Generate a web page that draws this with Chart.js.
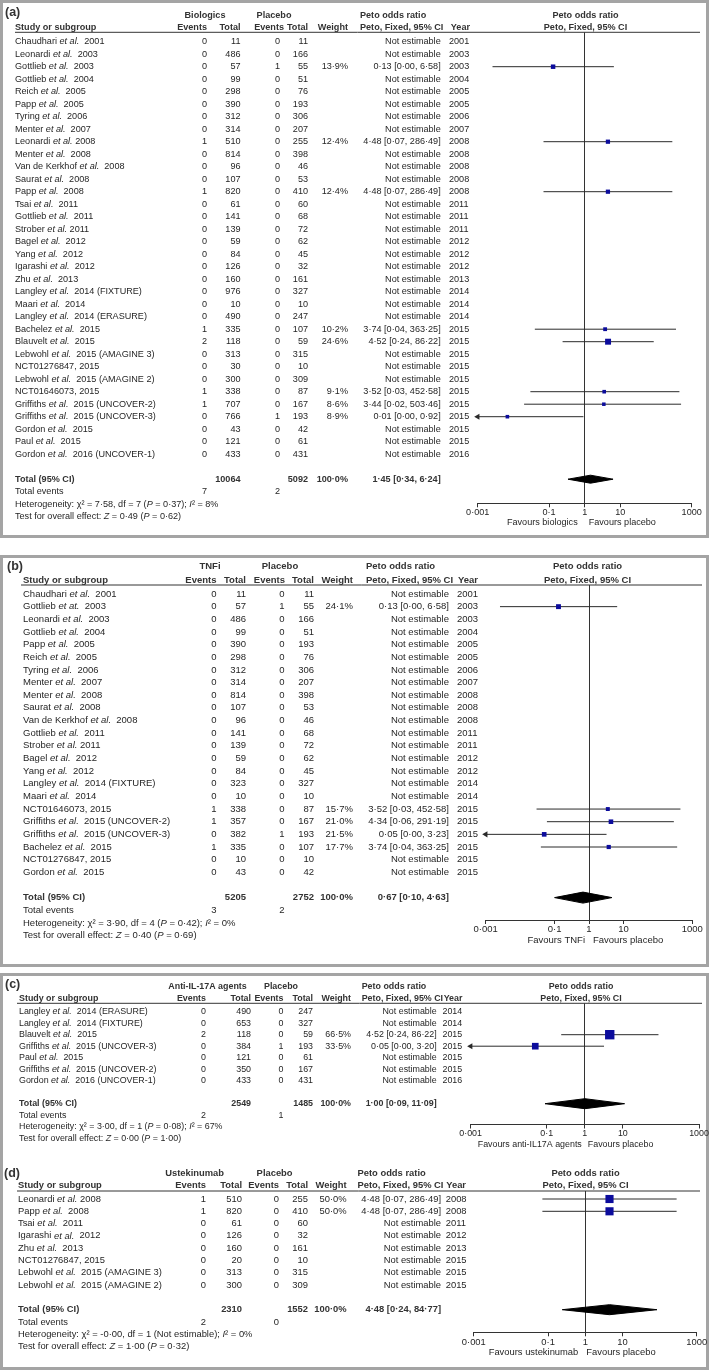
<!DOCTYPE html>
<html>
<head>
<meta charset="utf-8">
<script src="https://cdn.jsdelivr.net/npm/chart.js@4.4.0/dist/chart.umd.min.js"></script>
<style>
  body { margin: 0; background: #fff; }
  #page { position: relative; width: 709px; height: 1370px; overflow: hidden; }
  .box { position: absolute; left: 0; width: 709px; box-sizing: border-box; border: 3px solid #a4a4a4; }
  #page canvas { position: absolute; left: 0; }
</style>
</head>
<body>
<div id="page"></div>
<script>
// ---- panel (a): biologics vs placebo
const studiesA = ['Chaudhari et al.  2001', 'Leonardi et al.  2003', 'Gottlieb et al.  2003', 'Gottlieb et al.  2004',
  'Reich et al.  2005', 'Papp et al.  2005', 'Tyring et al.  2006', 'Menter et al.  2007', 'Leonardi et al. 2008',
  'Menter et al.  2008', 'Van de Kerkhof et al.  2008', 'Saurat et al.  2008', 'Papp et al.  2008', 'Tsai et al.  2011',
  'Gottlieb et al.  2011', 'Strober et al. 2011', 'Bagel et al.  2012', 'Yang et al.  2012', 'Igarashi et al.  2012',
  'Zhu et al.  2013', 'Langley et al.  2014 (FIXTURE)', 'Maari et al.  2014', 'Langley et al.  2014 (ERASURE)',
  'Bachelez et al.  2015', 'Blauvelt et al.  2015', 'Lebwohl et al.  2015 (AMAGINE 3)', 'NCT01276847, 2015',
  'Lebwohl et al.  2015 (AMAGINE 2)', 'NCT01646073, 2015', 'Griffiths et al.  2015 (UNCOVER-2)',
  'Griffiths et al.  2015 (UNCOVER-3)', 'Gordon et al.  2015', 'Paul et al.  2015', 'Gordon et al.  2016 (UNCOVER-1)'];
const eventsA1 = [0,0,0,0,0,0,0,0,1,0,0,0,1,0,0,0,0,0,0,0,0,0,0,1,2,0,0,0,1,1,0,0,0,0];
const totalA1 = [11,486,57,99,298,390,312,314,510,814,96,107,820,61,141,139,59,84,126,160,976,10,490,335,118,313,30,300,338,707,766,43,121,433];
const eventsA2 = [0,0,1,0,0,0,0,0,0,0,0,0,0,0,0,0,0,0,0,0,0,0,0,0,0,0,0,0,0,0,1,0,0,0];
const totalA2 = [11,166,55,51,76,193,306,207,255,398,46,53,410,60,68,72,62,45,32,161,327,10,247,107,59,315,10,309,87,167,193,42,61,431];
const weightA = [null,null,13.9,null,null,null,null,null,12.4,null,null,null,12.4,null,null,null,null,null,null,null,null,null,null,10.2,24.6,null,null,null,9.1,8.6,8.9,null,null,null];
const orA = [null,null,0.13,null,null,null,null,null,4.48,null,null,null,4.48,null,null,null,null,null,null,null,null,null,null,3.74,4.52,null,null,null,3.52,3.44,0.0068,null,null,null];
const loA = [null,null,0.0026,null,null,null,null,null,0.07,null,null,null,0.07,null,null,null,null,null,null,null,null,null,null,0.04,0.24,null,null,null,0.03,0.02,0.00005,null,null,null];
const hiA = [null,null,6.58,null,null,null,null,null,286.49,null,null,null,286.49,null,null,null,null,null,null,null,null,null,null,363.25,86.22,null,null,null,452.58,503.46,0.92,null,null,null];
const yearA = [2001,2003,2003,2004,2005,2005,2006,2007,2008,2008,2008,2008,2008,2011,2011,2011,2012,2012,2012,2013,2014,2014,2014,2015,2015,2015,2015,2015,2015,2015,2015,2015,2015,2016];
const totalsA = [10064, 5092];
const totalEventsA = [7, 2];
const pooledA = [1.45, 0.34, 6.24];
const hetA = [7.58, 7, 0.37, 8];      // chi2, df, P, I2
const testA = [0.49, 0.62];           // Z, P

// ---- panel (b): TNFi vs placebo
const studiesB = ['Chaudhari et al.  2001', 'Gottlieb et at.  2003', 'Leonardi et al.  2003', 'Gottlieb et al.  2004',
  'Papp et al.  2005', 'Reich et al.  2005', 'Tyring et al.  2006', 'Menter et al.  2007', 'Menter et al.  2008',
  'Saurat et al.  2008', 'Van de Kerkhof et al.  2008', 'Gottlieb et al.  2011', 'Strober et al. 2011', 'Bagel et al.  2012',
  'Yang et al.  2012', 'Langley et al.  2014 (FIXTURE)', 'Maari et al.  2014', 'NCT01646073, 2015',
  'Griffiths et al.  2015 (UNCOVER-2)', 'Griffiths et al.  2015 (UNCOVER-3)', 'Bachelez et al.  2015',
  'NCT01276847, 2015', 'Gordon et al.  2015'];
const eventsB1 = [0,0,0,0,0,0,0,0,0,0,0,0,0,0,0,0,0,1,1,0,1,0,0];
const totalB1 = [11,57,486,99,390,298,312,314,814,107,96,141,139,59,84,323,10,338,357,382,335,10,43];
const eventsB2 = [0,1,0,0,0,0,0,0,0,0,0,0,0,0,0,0,0,0,0,1,0,0,0];
const totalB2 = [11,55,166,51,193,76,306,207,398,53,46,68,72,62,45,327,10,87,167,193,107,10,42];
const weightB = [null,24.1,null,null,null,null,null,null,null,null,null,null,null,null,null,null,null,15.7,21.0,21.5,17.7,null,null];
const orB = [null,0.13,null,null,null,null,null,null,null,null,null,null,null,null,null,null,null,3.52,4.34,0.05,3.74,null,null];
const loB = [null,0.0026,null,null,null,null,null,null,null,null,null,null,null,null,null,null,null,0.03,0.06,0.0008,0.04,null,null];
const hiB = [null,6.58,null,null,null,null,null,null,null,null,null,null,null,null,null,null,null,452.58,291.19,3.23,363.25,null,null];
const yearB = [2001,2003,2003,2004,2005,2005,2006,2007,2008,2008,2008,2011,2011,2012,2012,2014,2014,2015,2015,2015,2015,2015,2015];
const totalsB = [5205, 2752];
const totalEventsB = [3, 2];
const pooledB = [0.67, 0.10, 4.63];
const hetB = [3.90, 4, 0.42, 0];
const testB = [0.40, 0.69];

// ---- panel (c): anti-IL-17A agents vs placebo
const studiesC = ['Langley et al.  2014 (ERASURE)', 'Langley et al.  2014 (FIXTURE)', 'Blauvelt et al.  2015',
  'Griffiths et al.  2015 (UNCOVER-3)', 'Paul et al.  2015', 'Griffiths et al.  2015 (UNCOVER-2)',
  'Gordon et al.  2016 (UNCOVER-1)'];
const eventsC1 = [0,0,2,0,0,0,0];
const totalC1 = [490,653,118,384,121,350,433];
const eventsC2 = [0,0,0,1,0,0,0];
const totalC2 = [247,327,59,193,61,167,431];
const weightC = [null,null,66.5,33.5,null,null,null];
const orC = [null,null,4.52,0.05,null,null,null];
const loC = [null,null,0.24,0.0008,null,null,null];
const hiC = [null,null,86.22,3.20,null,null,null];
const yearC = [2014,2014,2015,2015,2015,2015,2016];
const totalsC = [2549, 1485];
const totalEventsC = [2, 1];
const pooledC = [1.00, 0.09, 11.09];
const hetC = [3.00, 1, 0.08, 67];
const testC = [0.00, 1.00];

// ---- panel (d): ustekinumab vs placebo
const studiesD = ['Leonardi et al. 2008', 'Papp et al.  2008', 'Tsai et al.  2011', 'Igarashi et al.  2012',
  'Zhu et al.  2013', 'NCT01276847, 2015', 'Lebwohl et al.  2015 (AMAGINE 3)', 'Lebwohl et al.  2015 (AMAGINE 2)'];
const eventsD1 = [1,1,0,0,0,0,0,0];
const totalD1 = [510,820,61,126,160,20,313,300];
const eventsD2 = [0,0,0,0,0,0,0,0];
const totalD2 = [255,410,60,32,161,10,315,309];
const weightD = [50.0,50.0,null,null,null,null,null,null];
const orD = [4.48,4.48,null,null,null,null,null,null];
const loD = [0.07,0.07,null,null,null,null,null,null];
const hiD = [286.49,286.49,null,null,null,null,null,null];
const yearD = [2008,2008,2011,2012,2013,2015,2015,2015];
const totalsD = [2310, 1552];
const totalEventsD = [2, 0];
const pooledD = [4.48, 0.24, 84.77];
const hetD = [-0.001, 1, null, 0];
const testD = [1.00, 0.32];

// axis
const xTicks = [0.001, 0.1, 1, 10, 1000];
const xTickLabels = ['0·001', '0·1', '1', '10', '1000'];

const FAMILY = '"Liberation Sans", Arial, Helvetica, sans-serif';
const TEXT = '#262626';
const HEAD = '#333';
const BLUE = '#0c0c9c';
const AXIS_H = 18;   // fixed x-axis box height (labels are clipped to it)

const f2 = v => v.toFixed(2).replace('.', '·');
const pct = v => v.toFixed(1).replace('.', '·') + '%';
const ciText = (o, l, h) => f2(o) + ' [' + f2(l) + ', ' + f2(h) + ']';

// text with _italic_ parts
function rich(ctx, str, x, y, align, size, bold) {
  const parts = str.split('_');
  const font = it => (it ? 'italic ' : '') + (bold ? 'bold ' : '') + size + 'px ' + FAMILY;
  let w = 0;
  parts.forEach((p, k) => { ctx.font = font(k % 2 === 1); w += ctx.measureText(p).width; });
  let cx = align === 'right' ? x - w : align === 'center' ? x - w / 2 : x;
  ctx.textAlign = 'left';
  parts.forEach((p, k) => { ctx.font = font(k % 2 === 1); ctx.fillText(p, cx, y); cx += ctx.measureText(p).width; });
}

function textPlugin(D, L) {
  return {
    id: 'forestText',
    afterDraw(chart) {
      const ctx = chart.ctx;
      const ys = chart.scales.y, xs = chart.scales.x;
      const off = L.top;
      const rowY = i => ys.getPixelForValue(i);
      const put = (s, x, y, align, bold) => rich(ctx, s, x, y, align, L.fs, bold);
      ctx.save();
      ctx.textBaseline = 'middle';

      ctx.fillStyle = HEAD;
      rich(ctx, L.label, L.labX, L.labY - off, 'left', 12.5, true);
      const h1 = L.h1 - off, h2 = L.h2 - off;
      put(D.arm, L.arm1, h1, 'center', true);
      put('Placebo', L.arm2, h1, 'center', true);
      put('Peto odds ratio', L.orL, h1, 'left', true);
      put('Peto odds ratio', L.rh, h1, 'center', true);
      put('Study or subgroup', L.nameX, h2, 'left', true);
      put('Events', L.he1, h2, 'right', true);
      put('Total', L.t1, h2, 'right', true);
      put('Events', L.he2, h2, 'right', true);
      put('Total', L.t2, h2, 'right', true);
      put('Weight', L.w, h2, 'right', true);
      put('Peto, Fixed, 95% CI', L.orL, h2, 'left', true);
      put('Year', L.yearR, h2, 'right', true);
      put('Peto, Fixed, 95% CI', L.rh, h2, 'center', true);

      ctx.strokeStyle = '#333';
      ctx.lineWidth = 1;
      ctx.beginPath();
      ctx.moveTo(L.lineX0, L.headY - off);
      ctx.lineTo(L.lineX1, L.headY - off);
      ctx.stroke();

      ctx.fillStyle = TEXT;
      D.names.forEach((nm, i) => {
        const y = rowY(i);
        put(nm.replace(/(et a[lt]\.)/, '_$1_'), L.nameX, y, 'left');
        put(String(D.e1[i]), L.e1, y, 'right');
        put(String(D.t1[i]), L.t1, y, 'right');
        put(String(D.e2[i]), L.e2, y, 'right');
        put(String(D.t2[i]), L.t2, y, 'right');
        if (D.w[i] != null) put(pct(D.w[i]), L.w, y, 'right');
        put(D.or[i] == null ? 'Not estimable' : ciText(D.or[i], D.lo[i], D.hi[i]), L.orR, y, 'right');
        put(String(D.year[i]), L.yearL, y, 'left');
      });

      const n = D.names.length;
      let y = rowY(n + 1);
      ctx.fillStyle = HEAD;
      put('Total (95% CI)', L.nameX, y, 'left', true);
      put(String(D.totals[0]), L.t1, y, 'right', true);
      put(String(D.totals[1]), L.t2, y, 'right', true);
      put(pct(100), L.w, y, 'right', true);
      put(ciText(D.pooled[0], D.pooled[1], D.pooled[2]), L.orR, y, 'right', true);

      ctx.fillStyle = TEXT;
      y = rowY(n + 2);
      put('Total events', L.nameX, y, 'left');
      put(String(D.tev[0]), L.e1, y, 'right');
      put(String(D.tev[1]), L.e2, y, 'right');
      const het = D.het;
      put('Heterogeneity: χ² = ' + f2(het[0]) + ', df = ' + het[1] + ' (' +
        (het[2] == null ? 'Not estimable' : '_P_ = ' + f2(het[2])) + '); _I_² = ' + het[3] + '%',
        L.nameX, rowY(n + 3), 'left');
      put('Test for overall effect: _Z_ = ' + f2(D.test[0]) + ' (_P_ = ' + f2(D.test[1]) + ')',
        L.nameX, rowY(n + 4), 'left');

      const one = xs.getPixelForValue(1);
      put(D.fav, one - L.favL, L.favY - off, 'right');
      put('Favours placebo', one + L.favR, L.favY - off, 'left');
      ctx.restore();
    }
  };
}

function buildPanel(D, L) {
  const page = document.getElementById('page');
  if (L.box) {
    const b = document.createElement('div');
    b.className = 'box';
    b.style.top = L.box[0] + 'px';
    b.style.height = (L.box[1] - L.box[0]) + 'px';
    page.appendChild(b);
  }
  const canvas = document.createElement('canvas');
  canvas.width = 709;
  canvas.height = L.bottom - L.top;
  canvas.style.top = L.top + 'px';
  page.appendChild(canvas);

  const n = D.names.length;
  const yMin = (L.headY - L.y0) / L.dy;
  const yMax = (L.axisY - L.y0) / L.dy;
  const xMin = xTicks[0], xMax = xTicks[xTicks.length - 1];

  const squares = [], sizes = [], datasets = [];
  D.or.forEach((o, i) => {
    if (o == null) return;
    squares.push({ x: o, y: i });
    sizes.push(L.boxK * Math.sqrt(D.w[i]) / Math.SQRT2);
  });
  datasets.push({
    data: squares, showLine: false, pointStyle: 'rect', pointRadius: sizes,
    pointBackgroundColor: BLUE, pointBorderWidth: 0, clip: false
  });
  D.or.forEach((o, i) => {
    if (o == null) return;
    const lo = Math.max(D.lo[i], xMin), hi = Math.min(D.hi[i], xMax);
    datasets.push({
      data: [{ x: lo, y: i }, { x: hi, y: i }],
      showLine: true, borderColor: '#2a2a2a', borderWidth: 1,
      pointStyle: 'triangle', pointRotation: [-90, 90],
      pointRadius: [D.lo[i] < xMin ? 3.5 : 0, D.hi[i] > xMax ? 3.5 : 0],
      pointBackgroundColor: '#2a2a2a', pointBorderWidth: 0, clip: false
    });
  });
  // pooled diamond: upper and lower halves, filled between
  const t = n + 1, h = L.dia / L.dy, p = D.pooled;
  datasets.push({
    data: [{ x: p[1], y: t }, { x: p[0], y: t - h }, { x: p[2], y: t }],
    showLine: true, borderColor: '#000', borderWidth: 1, pointRadius: 0, tension: 0, clip: false
  });
  datasets.push({
    data: [{ x: p[1], y: t }, { x: p[0], y: t + h }, { x: p[2], y: t }],
    showLine: true, borderColor: '#000', borderWidth: 1, pointRadius: 0, tension: 0,
    fill: '-1', backgroundColor: '#000', clip: false
  });

  new Chart(canvas, {
    type: 'line',
    data: { datasets },
    options: {
      responsive: false,
      animation: false,
      events: [],
      layout: {
        padding: { left: L.axL, right: 709 - L.axR, top: L.headY - L.top, bottom: L.bottom - L.axisY - AXIS_H }
      },
      plugins: { legend: { display: false }, tooltip: { enabled: false } },
      scales: {
        x: {
          type: 'logarithmic', position: 'bottom', min: xMin, max: xMax,
          afterBuildTicks: s => { s.ticks = xTicks.map(v => ({ value: v })); },
          afterFit: s => { s.height = AXIS_H; },
          ticks: {
            autoSkip: false, maxRotation: 0, padding: 0, color: TEXT,
            font: { family: FAMILY, size: L.fs },
            callback: v => { const k = xTicks.indexOf(v); return k < 0 ? '' : xTickLabels[k]; }
          },
          grid: {
            drawOnChartArea: true, lineWidth: 1, tickLength: 4, tickColor: '#333',
            color: c => (c.tick && c.tick.value === 1 ? '#333' : 'rgba(0,0,0,0)')
          },
          border: { display: true, color: '#333', width: 1 }
        },
        y: { type: 'linear', display: false, reverse: true, min: yMin, max: yMax }
      }
    },
    plugins: [textPlugin(D, L)]
  });
}

buildPanel(
  { names: studiesA, e1: eventsA1, t1: totalA1, e2: eventsA2, t2: totalA2, w: weightA, or: orA, lo: loA, hi: hiA,
    year: yearA, totals: totalsA, tev: totalEventsA, pooled: pooledA, het: hetA, test: testA,
    arm: 'Biologics', fav: 'Favours biologics' },
  { box: [0, 538], top: 0, bottom: 538, label: '(a)', labX: 5, labY: 13, fs: 9.1,
    h1: 15, h2: 27, nameX: 15, he1: 207, e1: 207, t1: 240.5, he2: 284, e2: 280, t2: 308, w: 348,
    orL: 360, orR: 440.7, yearL: 449, yearR: 470, arm1: 205, arm2: 274, rh: 585.5,
    headY: 32.3, lineX0: 15, lineX1: 700, y0: 41.7, dy: 12.5,
    axL: 477.7, axR: 691.7, axisY: 503.3, favY: 522.7, favL: 7, favR: 4, boxK: 1.2, dia: 4 });

buildPanel(
  { names: studiesB, e1: eventsB1, t1: totalB1, e2: eventsB2, t2: totalB2, w: weightB, or: orB, lo: loB, hi: hiB,
    year: yearB, totals: totalsB, tev: totalEventsB, pooled: pooledB, het: hetB, test: testB,
    arm: 'TNFi', fav: 'Favours TNFi' },
  { box: [555, 967], top: 555, bottom: 967, label: '(b)', labX: 7, labY: 566.7, fs: 9.5,
    h1: 566.7, h2: 580, nameX: 23, he1: 216.5, e1: 216.5, t1: 246, he2: 285, e2: 284.5, t2: 314, w: 353,
    orL: 366, orR: 449, yearL: 457, yearR: 478, arm1: 210, arm2: 280, rh: 587.5,
    headY: 585, lineX0: 21, lineX1: 702, y0: 594, dy: 12.65,
    axL: 485.7, axR: 692.3, axisY: 920, favY: 940, favL: 4, favR: 4, boxK: 1.0, dia: 5.5 });

buildPanel(
  { names: studiesC, e1: eventsC1, t1: totalC1, e2: eventsC2, t2: totalC2, w: weightC, or: orC, lo: loC, hi: hiC,
    year: yearC, totals: totalsC, tev: totalEventsC, pooled: pooledC, het: hetC, test: testC,
    arm: 'Anti-IL-17A agents', fav: 'Favours anti-IL17A agents' },
  { box: [973, 1370], top: 973, bottom: 1160, label: '(c)', labX: 5, labY: 985, fs: 8.9,
    h1: 986.7, h2: 998.3, nameX: 19, he1: 206, e1: 206, t1: 251, he2: 283.5, e2: 283.5, t2: 313, w: 351,
    orL: 361.7, orR: 436.7, yearL: 442.5, yearR: 462.4, arm1: 207.5, arm2: 281, rh: 581,
    headY: 1003.3, lineX0: 17, lineX1: 702, y0: 1011.7, dy: 11.5,
    axL: 470.6, axR: 699, axisY: 1124.5, favY: 1145, favL: 3, favR: 3, boxK: 1.15, dia: 5 });

buildPanel(
  { names: studiesD, e1: eventsD1, t1: totalD1, e2: eventsD2, t2: totalD2, w: weightD, or: orD, lo: loD, hi: hiD,
    year: yearD, totals: totalsD, tev: totalEventsD, pooled: pooledD, het: hetD, test: testD,
    arm: 'Ustekinumab', fav: 'Favours ustekinumab' },
  { top: 1160, bottom: 1370, label: '(d)', labX: 4, labY: 1173.3, fs: 9.4,
    h1: 1173.3, h2: 1185, nameX: 18, he1: 206, e1: 206, t1: 242, he2: 279, e2: 279, t2: 308, w: 346.6,
    orL: 357.5, orR: 441, yearL: 445.7, yearR: 466, arm1: 194.6, arm2: 274.6, rh: 585.5,
    headY: 1191, lineX0: 17, lineX1: 700, y0: 1199, dy: 12.3,
    axL: 473.8, axR: 696.8, axisY: 1332.3, favY: 1352, favL: 7, favR: 1, boxK: 1.15, dia: 5 });
</script>
</body>
</html>
